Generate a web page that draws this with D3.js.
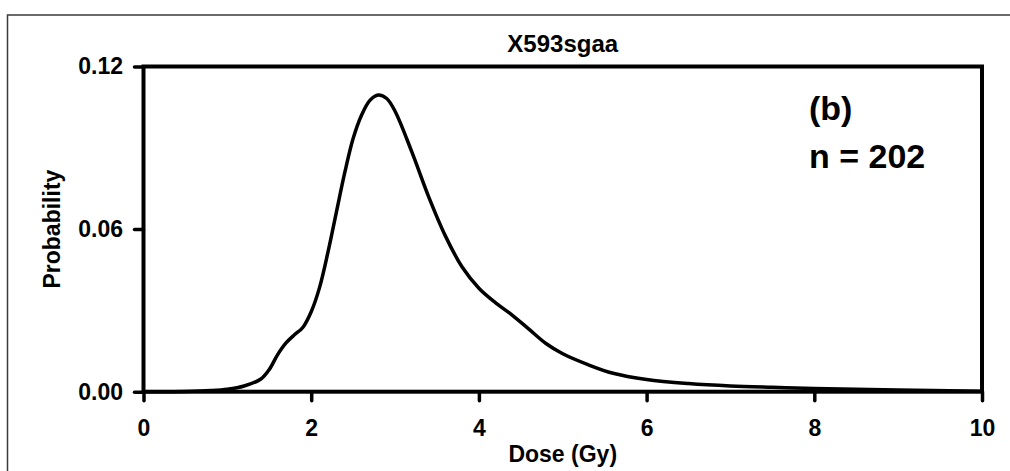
<!DOCTYPE html>
<html>
<head>
<meta charset="utf-8">
<script src="https://cdn.jsdelivr.net/npm/d3@7"></script>
<style>
  body { margin: 0; background: #fff; }
  text { font-family: "Liberation Sans", Arial, sans-serif; font-weight: bold; fill: #000; }
</style>
</head>
<body>
<div id="chart"></div>
<script>
// dose (Gy) and probability
var dose = [0, 0.5, 0.8, 1.0, 1.2, 1.4, 1.5, 1.6, 1.7, 1.8, 1.9, 2.0, 2.1, 2.2, 2.3, 2.4, 2.5, 2.6, 2.7, 2.8,
            2.9, 3.0, 3.2, 3.4, 3.6, 3.8, 4.0, 4.2, 4.4, 4.6, 4.8, 5.0, 5.3, 5.6, 6.0, 6.5, 7.0, 7.5, 8.0, 9.0, 10.0];
var prob = [0, 0.0001, 0.0004, 0.0009, 0.0021, 0.0047, 0.0082, 0.0137, 0.0180, 0.0210, 0.0237, 0.0295, 0.0385,
            0.0515, 0.0662, 0.0808, 0.0934, 0.1020, 0.1075, 0.1095, 0.1082, 0.1035, 0.0885, 0.0720, 0.0575, 0.0460,
            0.0382, 0.0328, 0.0282, 0.0230, 0.0178, 0.0140, 0.0100, 0.0068, 0.0045, 0.0030, 0.0021, 0.0016, 0.0012,
            0.0006, 0.0002];
var xTicks = [0, 2, 4, 6, 8, 10];
var yTicks = [0, 0.06, 0.12];
var title = "X593sgaa";
var notes = ["(b)", "n = 202"];

var width = 1010, height = 471;
var plot = {left: 143.5, right: 982, top: 66.5, bottom: 391.7};

var svg = d3.select("#chart")
    .append("svg")
    .attr("width", width)
    .attr("height", height);

// outer frame, runs off the right and bottom edges
svg.append("rect")
    .attr("x", 7.5)
    .attr("y", 15)
    .attr("width", 1020)
    .attr("height", 480)
    .attr("fill", "none")
    .attr("stroke", "#3a3a3a")
    .attr("stroke-width", 1.5);

var x = d3.scaleLinear().domain([0, 10]).range([plot.left, plot.right]);
var y = d3.scaleLinear().domain([0, 0.12]).range([plot.bottom, plot.top]);

var xAxis = svg.append("g")
    .attr("transform", "translate(0," + plot.bottom + ")")
    .call(d3.axisBottom(x).tickValues(xTicks).tickFormat(d3.format("d")).tickSize(9).tickPadding(19));

var yAxis = svg.append("g")
    .attr("transform", "translate(" + plot.left + ",0)")
    .call(d3.axisLeft(y).tickValues(yTicks).tickFormat(d3.format(".2f")).tickSize(9).tickPadding(11.5));

[xAxis, yAxis].forEach(function(a) {
    a.select(".domain").remove();
    a.selectAll(".tick line")
        .attr("stroke", "#000")
        .attr("stroke-width", 3.5)
        .attr("stroke-linecap", "round");
    a.selectAll(".tick text")
        .attr("font-size", 23)
        .style("font-family", "'Liberation Sans', Arial, sans-serif")
        .style("font-weight", "bold")
        .attr("fill", "#000");
});

var line = d3.line()
    .x(function(d, i) { return x(dose[i]); })
    .y(function(d) { return y(d); })
    .curve(d3.curveCatmullRom);

svg.append("path")
    .datum(prob)
    .attr("d", line)
    .attr("fill", "none")
    .attr("stroke", "#000")
    .attr("stroke-width", 3.5)
    .attr("stroke-linejoin", "round");

// plot frame
svg.append("rect")
    .attr("x", plot.left)
    .attr("y", plot.top)
    .attr("width", plot.right - plot.left)
    .attr("height", plot.bottom - plot.top)
    .attr("fill", "none")
    .attr("stroke", "#000")
    .attr("stroke-width", 4);

svg.append("text")
    .attr("x", (plot.left + plot.right) / 2)
    .attr("y", 52)
    .attr("text-anchor", "middle")
    .attr("font-size", 24)
    .text(title);

svg.append("text")
    .attr("x", (plot.left + plot.right) / 2)
    .attr("y", 462)
    .attr("text-anchor", "middle")
    .attr("font-size", 23)
    .text("Dose (Gy)");

svg.append("text")
    .attr("transform", "translate(59.5," + (plot.top + plot.bottom) / 2 + ") rotate(-90)")
    .attr("text-anchor", "middle")
    .attr("font-size", 23)
    .text("Probability");

svg.selectAll(".note")
    .data(notes)
    .enter()
    .append("text")
    .attr("class", "note")
    .attr("x", 809)
    .attr("y", function(d, i) { return 120 + 48 * i; })
    .attr("font-size", 34)
    .text(function(d) { return d; });
</script>
</body>
</html>
